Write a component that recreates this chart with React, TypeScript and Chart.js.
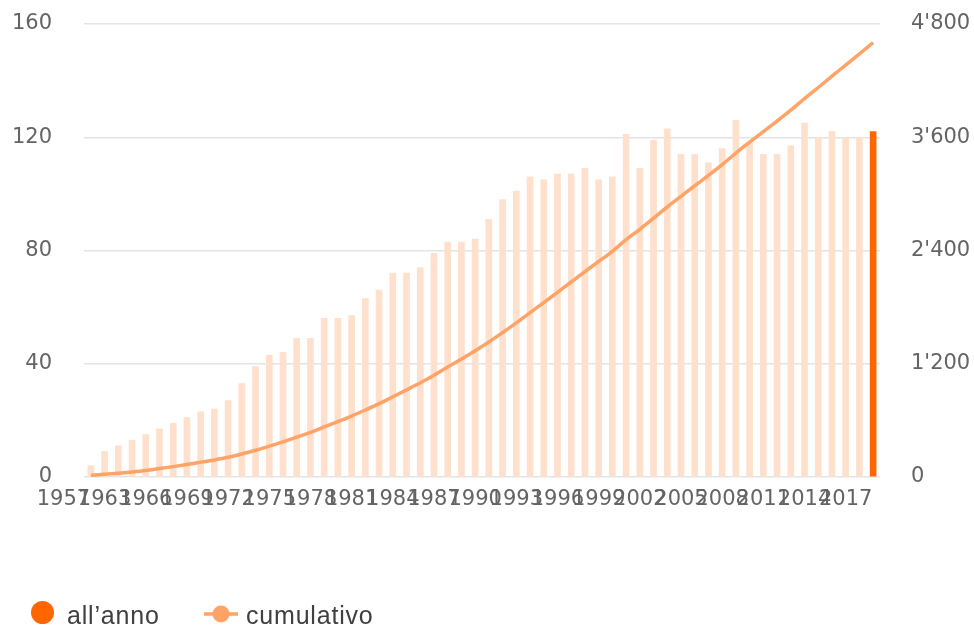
import React, { useEffect, useRef } from 'react';
import { Chart, registerables } from 'chart.js';

Chart.register(...registerables);

// ---- data ----
const years = [
  '1962', '1963', '1964', '1965', '1966', '1967', '1968', '1969', '1970', '1971',
  '1972', '1973', '1974', '1975', '1976', '1977', '1978', '1979', '1980', '1981',
  '1982', '1983', '1984', '1985', '1986', '1987', '1988', '1989', '1990', '1991',
  '1992', '1993', '1994', '1995', '1996', '1997', '1998', '1999', '2000', '2001',
  '2002', '2003', '2004', '2005', '2006', '2007', '2008', '2009', '2010', '2011',
  '2012', '2013', '2014', '2015', '2016', '2017', '2018', '2019',
];

const annual = [
  4, 9, 11, 13, 15, 17, 19, 21, 23, 24,
  27, 33, 39, 43, 44, 49, 49, 56, 56, 57,
  63, 66, 72, 72, 74, 79, 83, 83, 84, 91,
  98, 101, 106, 105, 107, 107, 109, 105, 106, 121,
  109, 119, 123, 114, 114, 111, 116, 126, 118, 114,
  114, 117, 125, 120, 122, 120, 120, 122,
];

const cumulative = [
  18, 28, 40, 54, 70, 90, 110, 132, 156, 181,
  209, 243, 283, 327, 372, 422, 473, 530, 587, 646,
  710, 777, 850, 923, 998, 1079, 1165, 1250, 1337, 1430,
  1530, 1633, 1741, 1848, 1957, 2066, 2177, 2284, 2392, 2515,
  2625, 2742, 2863, 2974, 3086, 3195, 3309, 3433, 3548, 3660,
  3772, 3887, 4010, 4127, 4247, 4365, 4483, 4603,
];

const xTickLabels = [
  '1957', '1963', '1966', '1969', '1972', '1975', '1978', '1981', '1984', '1987',
  '1990', '1993', '1996', '1999', '2002', '2005', '2008', '2011', '2014', '2017',
];
const xTickPositions = [
  -2, 1, 4, 7, 10, 13, 16, 19, 22, 25, 28, 31, 34, 37, 40, 43, 46, 49, 52, 55,
];

const seriesNames = ['all\u2019anno', 'cumulativo'];

const COLOR_LIGHT = '#FFE0CC';
const COLOR_STRONG = '#FF6600';
const COLOR_LINE = '#FFA366';
const TICK_COLOR = '#646464';
const CLEAR = 'rgba(0,0,0,0)';

const fmtApos = (n: number) =>
  String(n).replace(/\B(?=(\d{3})+(?!\d))/g, "'");

export default function App() {
  const canvasRef = useRef<HTMLCanvasElement | null>(null);

  useEffect(() => {
    const canvas = canvasRef.current;
    if (!canvas) return;
    const barColors = annual.map((_, i) =>
      i === annual.length - 1 ? COLOR_STRONG : COLOR_LIGHT
    );
    const chart = new Chart(canvas, {
      type: 'bar',
      data: {
        labels: years,
        datasets: [
          {
            type: 'line',
            label: seriesNames[1],
            data: cumulative,
            yAxisID: 'y1',
            borderColor: COLOR_LINE,
            backgroundColor: COLOR_LINE,
            borderWidth: 3.5,
            pointRadius: 0,
            cubicInterpolationMode: 'monotone',
            order: 0,
          } as any,
          {
            type: 'bar',
            label: seriesNames[0],
            data: annual,
            yAxisID: 'y',
            backgroundColor: barColors,
            barThickness: 6,
            order: 1,
          } as any,
        ],
      },
      options: {
        animation: false,
        responsive: false,
        maintainAspectRatio: false,
        layout: { padding: { top: 24, left: 0, right: 0, bottom: 0 } },
        plugins: {
          legend: { display: false },
          tooltip: { enabled: false },
        },
        scales: {
          x: {
            type: 'category',
            offset: true,
            grid: { display: false, drawTicks: false },
            border: { display: false },
            ticks: {
              autoSkip: false,
              maxRotation: 0,
              minRotation: 0,
              padding: 10,
              color: TICK_COLOR,
              font: { family: 'DejaVu Sans', size: 21 },
              callback: (_v: any, i: number) => xTickLabels[i],
            },
            afterBuildTicks: (s: any) => {
              s.ticks = xTickPositions.map((v) => ({ value: v }));
            },
            afterFit: (s: any) => {
              s.height = 150;
            },
          } as any,
          y: {
            position: 'left',
            min: 0,
            max: 160,
            ticks: {
              stepSize: 40,
              padding: 0,
              color: TICK_COLOR,
              font: { family: 'DejaVu Sans', size: 21 },
            },
            grid: {
              color: '#e4e4e4',
              lineWidth: 1.5,
              drawTicks: true,
              tickLength: 32,
              tickColor: CLEAR,
            },
            border: { display: false },
            afterFit: (s: any) => {
              s.width = 84;
            },
          } as any,
          y1: {
            position: 'right',
            min: 0,
            max: 4800,
            ticks: {
              stepSize: 1200,
              padding: 0,
              color: TICK_COLOR,
              font: { family: 'DejaVu Sans', size: 21 },
              callback: (v: any) => fmtApos(Number(v)),
            },
            grid: {
              display: true,
              drawOnChartArea: false,
              color: CLEAR,
              drawTicks: true,
              tickLength: 31,
              tickColor: CLEAR,
            },
            border: { display: false },
            afterFit: (s: any) => {
              s.width = 94;
            },
          } as any,
        },
      },
    });
    return () => chart.destroy();
  }, []);

  const legendText: React.CSSProperties = {
    position: 'absolute',
    top: 603,
    fontFamily: '"Liberation Sans", Arial, sans-serif',
    fontSize: 25,
    lineHeight: '25px',
    letterSpacing: '0.8px',
    color: '#404040',
    whiteSpace: 'nowrap',
  };

  return (
    <div
      style={{
        position: 'fixed',
        left: 0,
        top: 0,
        width: 974,
        height: 627,
        background: '#ffffff',
        overflow: 'hidden',
      }}
    >
      <canvas
        ref={canvasRef}
        width={974}
        height={627}
        style={{ position: 'absolute', left: 0, top: 0, width: 974, height: 627 }}
      />
      <div
        style={{
          position: 'absolute',
          left: 30.5,
          top: 601,
          width: 23,
          height: 23,
          borderRadius: '50%',
          background: COLOR_STRONG,
        }}
      />
      <span style={{ ...legendText, left: 67 }}>{seriesNames[0]}</span>
      <svg
        width={34}
        height={20}
        style={{ position: 'absolute', left: 204, top: 604 }}
      >
        <line x1={0} y1={10} x2={34} y2={10} stroke={COLOR_LINE} strokeWidth={3.5} />
        <circle cx={17} cy={10} r={8.5} fill={COLOR_LINE} />
      </svg>
      <span style={{ ...legendText, left: 246 }}>{seriesNames[1]}</span>
    </div>
  );
}
